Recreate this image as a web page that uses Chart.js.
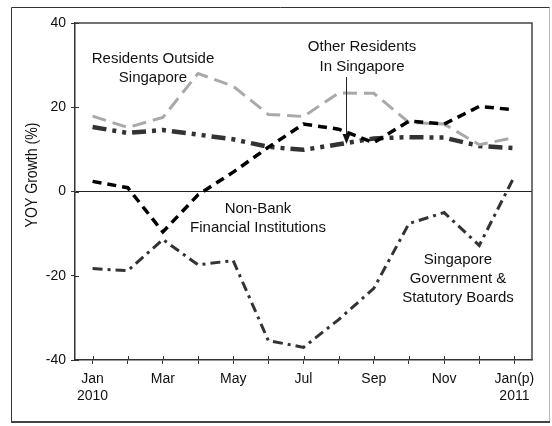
<!DOCTYPE html>
<html>
<head>
<meta charset="utf-8">
<script src="https://cdn.jsdelivr.net/npm/chart.js@4"></script>
<style>
html,body{margin:0;padding:0;background:#fff;}
#wrap{width:552px;height:426px;position:relative;}
</style>
</head>
<body>
<div id="wrap"><canvas id="c" width="552" height="426"></canvas></div>
<script>
const categories = ['Jan 2010','Feb','Mar','Apr','May','Jun','Jul','Aug','Sep','Oct','Nov','Dec','Jan(p) 2011'];
const tickLabels = [['Jan','2010'],'',['Mar'],'',['May'],'',['Jul'],'',['Sep'],'',['Nov'],'',['Jan(p)','2011']];
const residentsOutside = [17.9, 15.2, 17.6, 28.0, 25.0, 18.3, 17.8, 23.4, 23.3, 16.4, 16.0, 11.1, 12.8];
const otherResidents   = [15.3, 13.9, 14.6, 13.5, 12.4, 10.6, 9.9, 11.2, 12.6, 12.9, 12.8, 10.8, 10.3];
const nonBankFI        = [2.4, 0.9, -9.6, -0.8, 4.6, 10.5, 16.0, 14.8, 11.6, 16.7, 16.0, 20.2, 19.4];
const govtBoards       = [-18.3, -18.8, -11.4, -17.4, -16.4, -35.4, -37.0, -30.4, -23.0, -7.6, -5.0, -12.8, 3.6];
const yTicks = [-40, -20, 0, 20, 40];

const FONT = '"Liberation Sans", Arial, sans-serif';

const annotations = {
  id: 'annot',
  beforeDraw(chart) {
    const ctx = chart.ctx;
    ctx.save();
    ctx.fillStyle = '#fff';
    ctx.fillRect(0, 0, chart.width, chart.height);
    ctx.strokeStyle = '#bbb'; ctx.lineWidth = 1;
    ctx.beginPath(); ctx.moveTo(549.5, 7); ctx.lineTo(549.5, 423); ctx.stroke();
    ctx.strokeStyle = '#333';
    ctx.beginPath(); ctx.moveTo(11.5, 423); ctx.lineTo(11.5, 7.5); ctx.lineTo(549.5, 7.5); ctx.stroke();
    ctx.strokeStyle = '#444'; ctx.lineWidth = 2;
    ctx.beginPath(); ctx.moveTo(11, 422); ctx.lineTo(550, 422); ctx.stroke();
    ctx.restore();
  },
  afterDraw(chart) {
    const ctx = chart.ctx;
    const a = chart.chartArea;
    const xs = chart.scales.x, ys = chart.scales.y;
    ctx.save();
    ctx.strokeStyle = '#444'; ctx.lineWidth = 1.5;
    ctx.beginPath(); ctx.moveTo(a.left, a.top); ctx.lineTo(a.right, a.top); ctx.lineTo(a.right, a.bottom); ctx.stroke();
    ctx.strokeStyle = '#333'; ctx.lineWidth = 1;
    xs.ticks.forEach((t, i) => {
      const px = Math.round(xs.getPixelForTick(i)) + 0.5;
      ctx.beginPath(); ctx.moveTo(px, a.bottom - 4); ctx.lineTo(px, a.bottom); ctx.stroke();
    });
    ys.ticks.forEach((t, i) => {
      const py = Math.round(ys.getPixelForTick(i)) + 0.5;
      ctx.beginPath(); ctx.moveTo(a.left, py); ctx.lineTo(a.left + 4, py); ctx.stroke();
    });
    // y title (slightly condensed)
    ctx.fillStyle = '#111';
    ctx.font = '16px ' + FONT;
    ctx.textAlign = 'center'; ctx.textBaseline = 'middle';
    ctx.save();
    ctx.translate(33, 175);
    ctx.rotate(-Math.PI / 2);
    ctx.scale(0.88, 1);
    ctx.fillText('YOY Growth (%)', 0, 0);
    ctx.restore();
    // series labels
    ctx.font = '15px ' + FONT;
    ctx.fillStyle = '#111';
    const txt = (lines, x, y, lh) => lines.forEach((l, i) => ctx.fillText(l, x, y + i * lh));
    txt(['Residents Outside', 'Singapore'], 153, 59, 19);
    txt(['Other Residents', 'In Singapore'], 362, 47, 20);
    txt(['Non-Bank', 'Financial Institutions'], 258, 209, 19);
    txt(['Singapore', 'Government &', 'Statutory Boards'], 458, 260, 19);
    // arrow
    const ax = 346.5, y0 = 77, y1 = 144;
    ctx.strokeStyle = '#222'; ctx.lineWidth = 1;
    ctx.beginPath(); ctx.moveTo(ax, y0); ctx.lineTo(ax, y1 - 8); ctx.stroke();
    ctx.fillStyle = '#111';
    ctx.beginPath(); ctx.moveTo(ax - 4, y1 - 10); ctx.lineTo(ax + 4, y1 - 10); ctx.lineTo(ax, y1); ctx.closePath(); ctx.fill();
    ctx.restore();
  }
};

new Chart(document.getElementById('c'), {
  type: 'line',
  data: {
    labels: categories,
    datasets: [
      { label: 'Singapore Government & Statutory Boards', data: govtBoards, borderColor: '#333', borderWidth: 3, borderDash: [10, 5, 3, 5], pointRadius: 0, tension: 0, fill: false },
      { label: 'Non-Bank Financial Institutions', data: nonBankFI, borderColor: '#000', borderWidth: 3.5, borderDash: [9, 6], pointRadius: 0, tension: 0, fill: false },
      { label: 'Residents Outside Singapore', data: residentsOutside, borderColor: '#a9a9a9', borderWidth: 3, borderDash: [14, 7], pointRadius: 0, tension: 0, fill: false },
      { label: 'Other Residents In Singapore', data: otherResidents, borderColor: '#333', borderWidth: 4.5, borderDash: [14, 6, 4, 6, 4, 6], pointRadius: 0, tension: 0, fill: false }
    ]
  },
  options: {
    responsive: false,
    animation: false,
    devicePixelRatio: 1,
    layout: { padding: { left: 0, top: 23, right: 20, bottom: 0 } },
    plugins: { legend: { display: false }, tooltip: { enabled: false } },
    scales: {
      x: {
        offset: true,
        border: { display: true, color: '#333', width: 1.5 },
        grid: { display: true, drawOnChartArea: false, drawTicks: true, tickLength: 4, tickColor: '#333', offset: false },
        ticks: {
          autoSkip: false, maxRotation: 0, minRotation: 0, padding: 7, color: '#111',
          font: { family: FONT, size: 14, lineHeight: 1.2 },
          callback: (v, i) => tickLabels[i]
        },
        afterFit: s => { s.height = 66; }
      },
      y: {
        min: -40, max: 40,
        border: { display: true, color: '#333', width: 1.5 },
        grid: { drawTicks: true, tickLength: 4, tickColor: '#333', lineWidth: 1, color: c => c.tick && c.tick.value === 0 ? '#222' : 'rgba(0,0,0,0)' },
        afterBuildTicks: s => { s.ticks = yTicks.map(v => ({ value: v })); },
        ticks: { padding: 5, color: '#111', font: { family: FONT, size: 14 } },
        afterFit: s => { s.width = 75; }
      }
    }
  },
  plugins: [annotations]
});
</script>
</body>
</html>
